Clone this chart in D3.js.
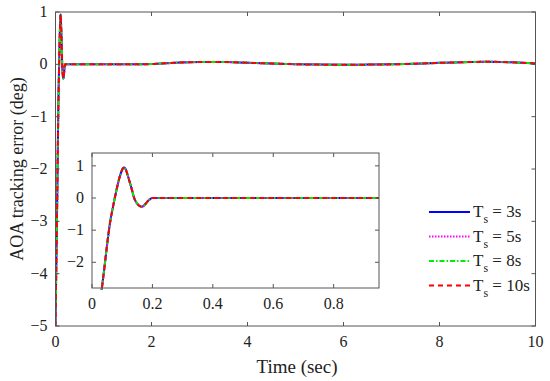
<!DOCTYPE html>
<meta charset="utf-8">
<title>AOA tracking error</title>
<style>
body { margin: 0; background: #fff; }
</style>
<body>
<script src="https://d3js.org/d3.v7.min.js"></script>
<script>

// time samples (sec) and the tracking error (deg)
var time = [0, 0.01, 0.02, 0.03, 0.04, 0.05, 0.06, 0.07, 0.08, 0.09, 0.1, 0.105, 0.11, 0.12, 0.13,
  0.14, 0.15, 0.16, 0.165, 0.17, 0.18, 0.19, 0.2, 0.25, 0.3, 0.5, 1, 1.5, 2, 2.5, 3, 3.5, 4, 4.5,
  5, 5.5, 6, 6.5, 7, 7.5, 8, 8.5, 9, 9.5, 10];
var err = [-5, -4.3, -3.65, -3.0, -2.25, -1.45, -0.75, -0.25, 0.2, 0.6, 0.88, 0.95, 0.92, 0.65, 0.33,
  -0.01, -0.18, -0.26, -0.27, -0.25, -0.15, -0.05, 0, 0, 0, 0, 0, 0, 0.005, 0.03, 0.045, 0.045, 0.03, 0.015,
  0.003, -0.005, -0.008, -0.005, 0, 0.012, 0.028, 0.042, 0.048, 0.04, 0.015];

var seriesNames = ["3s", "5s", "8s", "10s"];
var seriesColors = ["#0000ff", "#ff00ff", "#00ee00", "#ff0000"];
var seriesDash = [null, "1.5,1.5", "5,2,1.5,2", "5,4"];

var xTicks = [0, 2, 4, 6, 8, 10];
var yTicks = [-5, -4, -3, -2, -1, 0, 1];
var insetXTicks = [0, 0.2, 0.4, 0.6, 0.8];
var insetYTicks = [-2, -1, 0, 1];

var data = time.map(function(t, i) { return [t, err[i]]; });

var svg = d3.select("body").append("svg")
  .attr("width", 550)
  .attr("height", 381)
  .attr("font-family", "'Liberation Serif', 'Times New Roman', serif")
  .attr("fill", "#222");

var axisColor = "#555";

function fmt(v) { return v < 0 ? "\u2212" + Math.abs(v) : String(v); }

function drawPanel(box, xd, yd, xt, yt, clipId) {
  var x = d3.scaleLinear().domain(xd).range([box.l, box.r]);
  var y = d3.scaleLinear().domain(yd).range([box.b, box.t]);
  var g = svg.append("g");

  g.append("rect")
    .attr("x", box.l).attr("y", box.t)
    .attr("width", box.r - box.l).attr("height", box.b - box.t)
    .attr("fill", "#fff");

  svg.append("clipPath").attr("id", clipId)
    .append("rect")
    .attr("x", box.l).attr("y", box.t - 2)
    .attr("width", box.r - box.l).attr("height", box.b - box.t + 4);

  var line = d3.line()
    .x(function(d) { return x(d[0]); })
    .y(function(d) { return y(d[1]); })
    .curve(d3.curveMonotoneX);

  var lines = g.append("g").attr("clip-path", "url(#" + clipId + ")");
  seriesNames.forEach(function(n, i) {
    lines.append("path")
      .datum(data)
      .attr("d", line)
      .attr("fill", "none")
      .attr("stroke", seriesColors[i])
      .attr("stroke-width", 2)
      .attr("stroke-dasharray", seriesDash[i]);
  });

  // ticks inward on all four sides
  var tl = 4;
  xt.forEach(function(v) {
    g.append("line").attr("x1", x(v)).attr("x2", x(v)).attr("y1", box.b).attr("y2", box.b - tl)
      .attr("stroke", axisColor);
    g.append("line").attr("x1", x(v)).attr("x2", x(v)).attr("y1", box.t).attr("y2", box.t + tl)
      .attr("stroke", axisColor);
    g.append("text").attr("x", x(v)).attr("y", box.b + 21)
      .attr("text-anchor", "middle").attr("font-size", 16).text(fmt(v));
  });
  yt.forEach(function(v) {
    g.append("line").attr("x1", box.l).attr("x2", box.l + tl).attr("y1", y(v)).attr("y2", y(v))
      .attr("stroke", axisColor);
    g.append("line").attr("x1", box.r).attr("x2", box.r - tl).attr("y1", y(v)).attr("y2", y(v))
      .attr("stroke", axisColor);
    g.append("text").attr("x", box.l - 8).attr("y", y(v) + 5)
      .attr("text-anchor", "end").attr("font-size", 16).text(fmt(v));
  });

  g.append("rect")
    .attr("x", box.l).attr("y", box.t)
    .attr("width", box.r - box.l).attr("height", box.b - box.t)
    .attr("fill", "none").attr("stroke", axisColor).attr("stroke-width", 1);
  return g;
}

drawPanel({l: 55.5, r: 535.5, t: 12, b: 326}, [0, 10], [-5, 1], xTicks, yTicks, "clipMain");
drawPanel({l: 92, r: 379, t: 153, b: 288}, [0, 0.95], [-2.8, 1.4], insetXTicks, insetYTicks, "clipInset");

// axis labels
svg.append("text")
  .attr("x", 297).attr("y", 373)
  .attr("text-anchor", "middle").attr("font-size", 19)
  .text("Time (sec)");
svg.append("text")
  .attr("transform", "translate(23,169) rotate(-90)")
  .attr("text-anchor", "middle").attr("font-size", 18)
  .text("AOA tracking error (deg)");

// legend
var legend = svg.append("g");
seriesNames.forEach(function(n, i) {
  var yy = 212 + i * 24.5;
  legend.append("line")
    .attr("x1", 429).attr("x2", 470).attr("y1", yy).attr("y2", yy)
    .attr("stroke", seriesColors[i]).attr("stroke-width", 2)
    .attr("stroke-dasharray", seriesDash[i]);
  var t = legend.append("text").attr("x", 473).attr("y", yy + 5).attr("font-size", 17);
  t.append("tspan").text("T");
  t.append("tspan").attr("dy", 6).attr("font-size", 12).text("s");
  t.append("tspan").attr("dy", -6).text(" = " + n);
});

</script>
</body>
